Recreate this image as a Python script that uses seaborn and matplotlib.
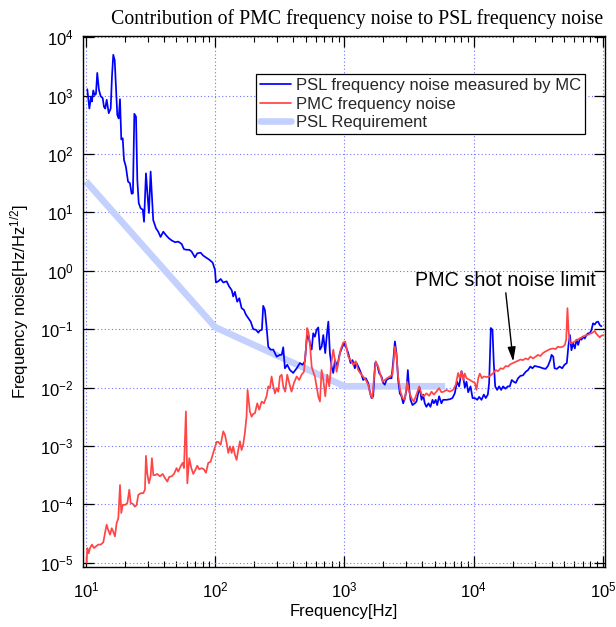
import numpy as np
import pandas as pd
import matplotlib
matplotlib.use("Agg")
import matplotlib.pyplot as plt
import seaborn as sns
from matplotlib.ticker import FixedLocator, LogFormatterSciNotation, NullLocator, NullFormatter
from matplotlib.lines import Line2D

# ---------------- data (log10 of frequency [Hz] and noise [Hz/rtHz]) ----------------
psl_log_f = [1.010, 1.026, 1.039, 1.046, 1.056, 1.067, 1.077, 1.087, 1.100, 1.114, 1.129, 1.139, 1.149, 1.160,
             1.176, 1.191, 1.201, 1.211, 1.222, 1.232, 1.242, 1.253, 1.263, 1.273, 1.284, 1.294, 1.309, 1.325,
             1.340, 1.353, 1.363, 1.374, 1.387, 1.397, 1.408, 1.423, 1.439, 1.449, 1.464, 1.477, 1.487, 1.500,
             1.510, 1.520, 1.541, 1.559, 1.577, 1.598, 1.619, 1.640, 1.663, 1.689, 1.714, 1.740, 1.758, 1.779,
             1.799, 1.817, 1.843, 1.861, 1.887, 1.907, 1.933, 1.954, 1.980, 1.998, 2.005, 2.023, 2.042, 2.062,
             2.088, 2.108, 2.127, 2.139, 2.152, 2.170, 2.186, 2.204, 2.222, 2.237, 2.255, 2.274, 2.294, 2.315,
             2.333, 2.346, 2.361, 2.371, 2.384, 2.397, 2.410, 2.428, 2.449, 2.475, 2.500, 2.514, 2.526, 2.539,
             2.557, 2.578, 2.603, 2.630, 2.655, 2.676, 2.694, 2.707, 2.720, 2.732, 2.746, 2.758, 2.771, 2.784,
             2.797, 2.810, 2.823, 2.836, 2.851, 2.862, 2.875, 2.887, 2.900, 2.913, 2.926, 2.944, 2.964, 2.995,
             3.011, 3.029, 3.047, 3.062, 3.080, 3.093, 3.113, 3.132, 3.144, 3.165, 3.183, 3.196, 3.209, 3.222,
             3.237, 3.253, 3.268, 3.286, 3.299, 3.312, 3.325, 3.346, 3.364, 3.377, 3.390, 3.402, 3.415, 3.428,
             3.441, 3.454, 3.467, 3.480, 3.490, 3.500, 3.511, 3.526, 3.544, 3.557, 3.570, 3.583, 3.596, 3.608,
             3.621, 3.634, 3.650, 3.665, 3.681, 3.691, 3.706, 3.717, 3.732, 3.750, 3.763, 3.789, 3.815, 3.835,
             3.853, 3.871, 3.887, 3.905, 3.918, 3.931, 3.944, 3.957, 3.975, 3.991, 4.009, 4.027, 4.042, 4.060,
             4.078, 4.093, 4.109, 4.119, 4.132, 4.145, 4.155, 4.166, 4.181, 4.196, 4.212, 4.227, 4.245, 4.263,
             4.279, 4.294, 4.309, 4.325, 4.343, 4.361, 4.381, 4.402, 4.420, 4.438, 4.454, 4.471, 4.489, 4.510,
             4.535, 4.556, 4.574, 4.592, 4.602, 4.615, 4.625, 4.643, 4.664, 4.684, 4.702, 4.720, 4.733, 4.744,
             4.756, 4.769, 4.782, 4.795, 4.808, 4.821, 4.834, 4.846, 4.859, 4.872, 4.885, 4.898, 4.911, 4.923,
             4.936, 4.949, 4.962, 4.975, 4.988]
psl_log_v = [3.11, 2.78, 2.98, 2.90, 3.09, 3.01, 3.03, 3.39, 3.10, 2.99, 2.96, 2.81, 2.78, 2.93,
             2.70, 2.78, 3.33, 3.70, 3.61, 3.15, 2.67, 2.61, 2.94, 2.25, 2.27, 1.90, 1.78, 1.53,
             1.50, 1.32, 1.33, 2.69, 2.64, 1.56, 1.16, 1.07, 1.05, 0.84, 1.67, 1.27, 0.99, 1.70,
             1.27, 0.87, 0.73, 0.67, 0.58, 0.67, 0.61, 0.56, 0.52, 0.49, 0.50, 0.46, 0.37, 0.36,
             0.36, 0.33, 0.23, 0.30, 0.31, 0.26, 0.22, 0.19, 0.14, 0.015, -0.20, -0.18, -0.14, -0.20,
             -0.18, -0.27, -0.33, -0.44, -0.36, -0.53, -0.47, -0.64, -0.67, -0.75, -0.81, -0.87, -1.00, -1.01,
             -1.06, -1.02, -1.01, -0.60, -0.67, -0.96, -1.30, -1.35, -1.35, -1.47, -1.44, -1.44, -1.31, -1.67,
             -1.61, -1.70, -1.75, -1.67, -1.58, -1.61, -1.55, -1.18, -1.10, -1.24, -1.35, -1.07, -1.13, -1.01,
             -0.97, -1.35, -1.30, -1.10, -1.41, -1.13, -0.87, -1.41, -1.64, -1.75, -1.53, -1.64, -1.41, -1.24,
             -1.30, -1.41, -1.58, -1.53, -1.67, -1.58, -1.67, -1.78, -1.87, -1.84, -1.92, -2.07, -2.18, -2.15,
             -1.58, -1.61, -1.75, -1.81, -1.92, -1.95, -1.87, -1.84, -1.84, -1.55, -1.21, -1.41, -1.87, -2.10,
             -2.15, -2.27, -2.18, -2.04, -1.70, -2.01, -2.21, -2.30, -2.27, -2.24, -2.10, -2.01, -2.21, -2.12,
             -2.27, -2.33, -2.27, -2.33, -2.21, -2.27, -2.21, -2.30, -2.15, -2.27, -2.21, -2.21, -2.20, -2.18,
             -2.10, -1.90, -1.98, -1.72, -1.81, -2.00, -1.90, -2.08, -1.98, -2.18, -2.18, -2.21, -2.16, -2.21,
             -2.12, -2.18, -2.12, -1.92, -0.98, -1.01, -1.58, -1.98, -2.04, -1.98, -2.04, -1.98, -2.02, -1.98,
             -1.98, -1.87, -1.90, -1.92, -1.84, -1.80, -1.79, -1.73, -1.70, -1.64, -1.67, -1.63, -1.64, -1.65,
             -1.67, -1.68, -1.63, -1.53, -1.44, -1.47, -1.67, -1.68, -1.64, -1.67, -1.61, -1.58, -1.27, -1.10,
             -1.36, -1.24, -1.33, -1.18, -1.27, -1.16, -1.18, -1.13, -1.16, -1.10, -1.07, -1.07, -1.01, -0.90,
             -0.92, -0.88, -0.87, -0.93, -0.95]

pmc_log_f = [1.005, 1.010, 1.021, 1.031, 1.046, 1.062, 1.077, 1.095, 1.114, 1.134, 1.147, 1.160, 1.172, 1.186,
             1.199, 1.211, 1.224, 1.237, 1.250, 1.263, 1.273, 1.284, 1.302, 1.320, 1.335, 1.346, 1.361, 1.379,
             1.392, 1.404, 1.423, 1.443, 1.456, 1.464, 1.474, 1.487, 1.500, 1.510, 1.521, 1.534, 1.551, 1.572,
             1.593, 1.611, 1.629, 1.644, 1.663, 1.681, 1.701, 1.714, 1.732, 1.748, 1.758, 1.773, 1.784, 1.799,
             1.815, 1.830, 1.846, 1.861, 1.876, 1.894, 1.912, 1.928, 1.946, 1.964, 1.980, 1.998, 2.011, 2.023,
             2.042, 2.062, 2.075, 2.088, 2.101, 2.114, 2.127, 2.139, 2.152, 2.165, 2.178, 2.191, 2.204, 2.216,
             2.229, 2.242, 2.250, 2.268, 2.281, 2.294, 2.307, 2.325, 2.340, 2.359, 2.377, 2.397, 2.410, 2.423,
             2.436, 2.449, 2.462, 2.475, 2.488, 2.500, 2.514, 2.526, 2.541, 2.557, 2.572, 2.590, 2.609, 2.630,
             2.650, 2.668, 2.686, 2.701, 2.711, 2.722, 2.732, 2.746, 2.758, 2.771, 2.784, 2.797, 2.810, 2.823,
             2.836, 2.851, 2.867, 2.882, 2.900, 2.913, 2.926, 2.939, 2.951, 2.970, 2.990, 3.005, 3.029, 3.047,
             3.067, 3.087, 3.106, 3.124, 3.144, 3.165, 3.183, 3.201, 3.216, 3.229, 3.242, 3.260, 3.278, 3.294,
             3.312, 3.330, 3.351, 3.371, 3.390, 3.402, 3.415, 3.433, 3.449, 3.467, 3.485, 3.500, 3.518, 3.536,
             3.557, 3.578, 3.596, 3.614, 3.634, 3.655, 3.673, 3.691, 3.711, 3.732, 3.750, 3.768, 3.789, 3.815,
             3.840, 3.861, 3.879, 3.892, 3.905, 3.918, 3.931, 3.944, 3.970, 3.991, 4.009, 4.021, 4.035, 4.047,
             4.063, 4.078, 4.099, 4.119, 4.137, 4.155, 4.171, 4.189, 4.207, 4.227, 4.248, 4.266, 4.284, 4.304,
             4.325, 4.343, 4.361, 4.381, 4.402, 4.420, 4.438, 4.459, 4.479, 4.497, 4.515, 4.535, 4.556, 4.574,
             4.592, 4.612, 4.633, 4.651, 4.669, 4.689, 4.705, 4.715, 4.725, 4.733, 4.744, 4.764, 4.782, 4.800,
             4.821, 4.841, 4.859, 4.880, 4.898, 4.918, 4.936, 4.949, 4.962, 4.975, 4.988, 5.005]
pmc_log_v = [-5.00, -4.75, -4.84, -4.75, -4.69, -4.75, -4.72, -4.69, -4.69, -4.65, -4.49, -4.35, -4.44, -4.52,
             -4.41, -4.47, -4.55, -4.32, -4.24, -3.67, -4.15, -4.01, -4.01, -3.98, -3.75, -3.98, -3.99, -4.04,
             -4.01, -3.84, -3.81, -3.81, -3.75, -3.17, -3.47, -3.64, -3.52, -3.21, -3.50, -3.50, -3.48, -3.52,
             -3.48, -3.55, -3.61, -3.53, -3.52, -3.48, -3.38, -3.44, -3.35, -3.29, -3.38, -2.41, -3.64, -3.21,
             -3.38, -3.48, -3.41, -3.34, -3.40, -3.38, -3.40, -3.46, -3.29, -3.27, -3.15, -3.02, -2.93, -2.93,
             -2.98, -2.75, -2.81, -2.95, -3.12, -3.01, -3.12, -3.01, -3.15, -3.24, -3.07, -2.92, -3.07, -2.98,
             -2.78, -2.50, -2.04, -2.41, -2.50, -2.45, -2.44, -2.27, -2.38, -2.24, -2.27, -2.15, -1.98, -2.01,
             -1.81, -1.98, -2.10, -2.01, -2.07, -1.81, -1.78, -1.98, -2.07, -1.78, -1.92, -2.07, -1.92, -1.81,
             -1.87, -1.78, -1.73, -1.35, -0.98, -1.06, -1.24, -1.64, -1.73, -1.81, -1.98, -2.15, -2.24, -1.70,
             -1.87, -2.15, -1.78, -1.98, -1.55, -1.35, -1.53, -1.73, -1.58, -1.35, -1.23, -1.21, -1.47, -1.53,
             -1.61, -1.55, -1.70, -1.76, -1.81, -1.87, -1.95, -2.12, -2.18, -1.81, -1.55, -1.64, -1.78, -1.90,
             -1.87, -1.84, -1.81, -1.78, -1.30, -1.44, -1.81, -2.07, -2.18, -2.21, -1.90, -2.07, -2.18, -2.24,
             -2.12, -1.98, -2.12, -2.15, -2.10, -2.14, -2.07, -2.12, -2.07, -2.01, -2.08, -2.07, -2.04, -2.07,
             -2.04, -1.95, -1.75, -1.84, -1.72, -1.87, -1.76, -1.84, -1.87, -1.90, -1.92, -2.04, -1.84, -1.76,
             -1.84, -1.81, -1.82, -1.81, -1.78, -1.74, -1.70, -1.72, -1.67, -1.68, -1.63, -1.64, -1.60, -1.58,
             -1.56, -1.54, -1.52, -1.53, -1.50, -1.52, -1.47, -1.50, -1.47, -1.44, -1.46, -1.41, -1.38, -1.36,
             -1.34, -1.33, -1.34, -1.30, -1.31, -1.30, -1.27, -1.18, -0.64, -1.01, -1.24, -1.23, -1.21, -1.18,
             -1.16, -1.13, -1.11, -1.10, -1.08, -1.06, -1.03, -1.08, -1.11, -1.14, -1.11, -1.10]

req_f = [10.0, 100.0, 1000.0, 6000.0]
req_v = [34.0, 0.108, 0.0105, 0.0105]

x_ticks = [1e1, 1e2, 1e3, 1e4, 1e5]
y_ticks = [1e-5, 1e-4, 1e-3, 1e-2, 1e-1, 1e0, 1e1, 1e2, 1e3, 1e4]

legend_labels = ["PSL frequency noise measured by MC", "PMC frequency noise", "PSL Requirement"]
title_text = "Contribution of PMC frequency noise to PSL frequency noise"
annot_text = "PMC shot noise limit"
annot_tip = (2.02e4, 0.0279)
annot_tail = (1.77e4, 0.42)
annot_pos = (1.77e4, 0.685)

# ---------------- styling ----------------
sns.set_theme(style="white")
plt.rcParams["font.family"] = ["Liberation Sans", "DejaVu Sans"]
plt.rcParams["mathtext.default"] = "regular"

C_BLUE = (0.0, 0.0, 1.0)
C_RED = (1.0, 0.27, 0.27)
C_REQ = (0.77, 0.82, 1.0)

psl = pd.DataFrame({"f": 10 ** np.array(psl_log_f), "v": 10 ** np.array(psl_log_v)})
pmc = pd.DataFrame({"f": 10 ** np.array(pmc_log_f), "v": 10 ** np.array(pmc_log_v)})
req = pd.DataFrame({"f": req_f, "v": req_v})

fig = plt.figure(figsize=(6.16, 6.27), dpi=100)
fig.patch.set_facecolor("white")
ax = fig.add_axes([83 / 616, (627 - 567) / 627, 522 / 616, (567 - 35.5) / 627])
ax.set_facecolor("white")
ax.set_xscale("log")
ax.set_yscale("log")

sns.lineplot(data=req, x="f", y="v", ax=ax, color=C_REQ, lw=4.8, estimator=None, sort=False,
             legend=False, solid_capstyle="butt", zorder=2)
sns.lineplot(data=psl, x="f", y="v", ax=ax, color=C_BLUE, lw=1.25, estimator=None, sort=False,
             legend=False, zorder=3)
sns.lineplot(data=pmc, x="f", y="v", ax=ax, color=C_RED, lw=1.25, estimator=None, sort=False,
             legend=False, zorder=4)

ax.set_xlim(10 ** 0.9768, 10 ** 5.0155)
ax.set_ylim(10 ** -5.074, 10 ** 4.031)

x_minor = [m * d for d in x_ticks[:-1] for m in range(2, 10)]
ax.xaxis.set_major_locator(FixedLocator(x_ticks))
ax.xaxis.set_minor_locator(FixedLocator(x_minor))
ax.xaxis.set_minor_formatter(NullFormatter())
ax.yaxis.set_major_locator(FixedLocator(y_ticks))
ax.yaxis.set_minor_locator(NullLocator())
ax.xaxis.set_major_formatter(LogFormatterSciNotation())
ax.yaxis.set_major_formatter(LogFormatterSciNotation())

ax.tick_params(which="both", direction="in", top=True, right=True, bottom=True, left=True,
               colors="black", labelsize=12)
ax.tick_params(axis="y", which="major", length=8, width=0.9, pad=7)
ax.tick_params(axis="x", which="major", length=8, width=0.9, pad=10)
ax.tick_params(which="minor", length=4, width=0.8)
for s in ax.spines.values():
    s.set_color("black")
    s.set_linewidth(1.0)
    s.set_visible(True)

ax.set_axisbelow(True)
ax.grid(True, which="major", color=(0.45, 0.45, 1.0), linestyle=(0, (1.0, 2.2)), lw=0.8)
ax.grid(False, which="minor")

ax.set_xlabel("Frequency[Hz]", fontsize=12, color="black", labelpad=2)
ax.set_ylabel("Frequency noise[Hz/Hz$^{1/2}$]", fontsize=12, color="black", labelpad=6)

fig.text(357.5 / 616, 1 - 19 / 627, title_text, ha="center", va="center",
         fontsize=14.3, family=["Liberation Serif", "DejaVu Serif"], color="black")

handles = [Line2D([], [], color=C_BLUE, lw=1.25),
           Line2D([], [], color=C_RED, lw=1.25),
           Line2D([], [], color=C_REQ, lw=4.8)]
leg = ax.legend(handles, legend_labels, loc="upper right", bbox_to_anchor=(0.9617, 0.9276),
                borderaxespad=0, fontsize=12, frameon=True, fancybox=False, framealpha=1,
                edgecolor="black", handlelength=1.86, handletextpad=0.26, labelspacing=0.2,
                borderpad=0.26)
leg.get_frame().set_linewidth(0.9)

ax.text(annot_pos[0], annot_pos[1], annot_text, ha="center", va="center", fontsize=14.2, color="black")
ax.annotate("", xy=annot_tip, xytext=annot_tail,
            arrowprops=dict(arrowstyle="-|>,head_length=0.86,head_width=0.24", color="black", lw=1.0,
                            shrinkA=0, shrinkB=0, mutation_scale=10))

fig.savefig("out.png", dpi=100, facecolor="white")
